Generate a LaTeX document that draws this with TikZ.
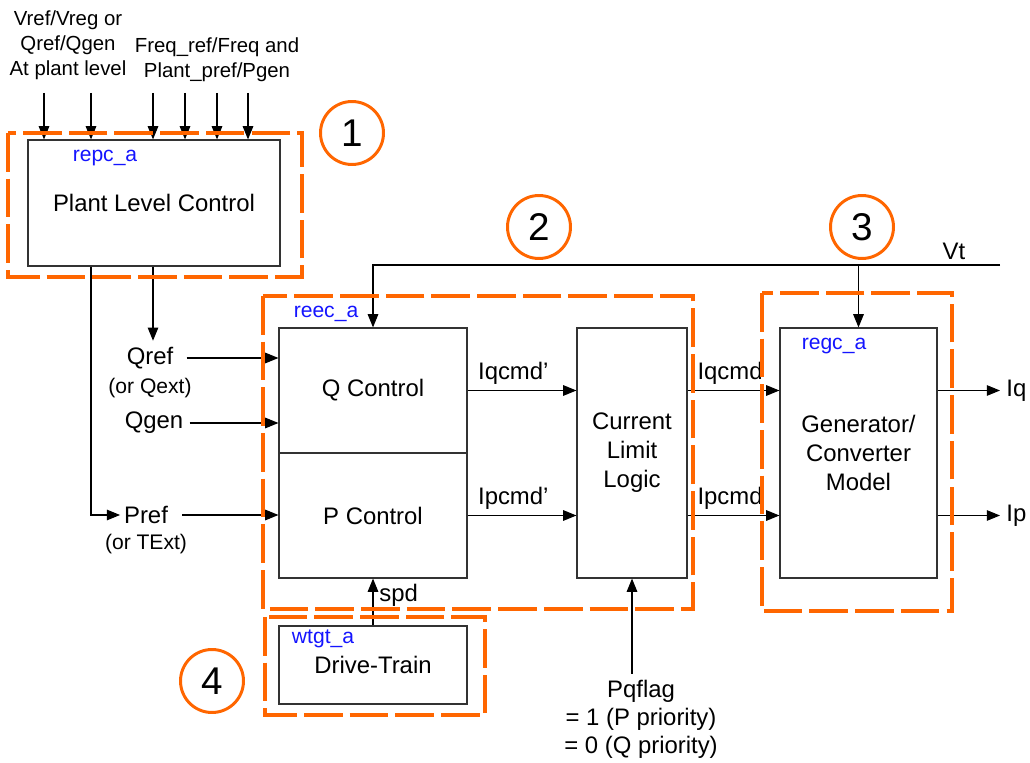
\documentclass[tikz,border=0pt]{standalone}
\usepackage{fontspec}
\setmainfont{Liberation Sans}
\usetikzlibrary{arrows.meta}
\definecolor{grporange}{RGB}{255,102,0}
\definecolor{tagblue}{RGB}{20,20,255}

\begin{document}
\begin{tikzpicture}[x=0.02cm,y=-0.02cm,line width=0.6pt,
  >={Triangle[length=7.5pt,width=6pt]},
  every node/.style={font=\fontsize{13.6}{16.5}\selectfont},
  blk/.style={draw=black!80,line width=0.7pt,align=center,inner sep=0pt},
  tag/.style={text=tagblue,font=\fontsize{12}{14}\selectfont},
  note/.style={font=\fontsize{12}{14}\selectfont},
  intext/.style={align=center,font=\fontsize{11.6}{14.2}\selectfont},
  grp/.style={draw=grporange,line width=2.5pt,dash pattern=on 22pt off 4pt},
  num/.style={circle,draw=grporange,line width=1.7pt,minimum size=1.26cm,
    inner sep=0pt,font=\fontsize{22}{24}\selectfont}]
\useasboundingbox (0,0) rectangle (1030,763);
\path
(68,45) node[intext] (vin) {Vref/Vreg or\\Qref/Qgen\\At plant level}
(217,60) node[intext] (fin) {Freq\_ref/Freq and\\Plant\_pref/Pgen}
(44,93) coordinate (in1)
(91,93) coordinate (in2)
(153,93) coordinate (in3)
(185,93) coordinate (in4)
(217,93) coordinate (in5)
(248,93) coordinate (in6)
(154,203) node[blk,minimum width=5.04cm,minimum height=2.52cm] (plant) {Plant Level Control}
(105,158) node[tag] (repc) {repc\_a}
(150,358) node (qref) {Qref}
(150,388) node[note] (qext) {(or Qext)}
(154,423) node (qgen) {Qgen}
(146,515) node[inner sep=2pt] (pref) {Pref}
(146,544) node[note] (text) {(or TExt)}
(373,390.5) node[blk,minimum width=3.76cm,minimum height=2.5cm] (qctrl) {Q Control}
(373,515.5) node[blk,minimum width=3.76cm,minimum height=2.5cm] (pctrl) {P Control}
(326,314) node[tag] (reec) {reec\_a}
(632,453) node[blk,minimum width=2.2cm,minimum height=5cm] (cll) {Current\\Limit\\Logic}
(858.5,453) node[blk,minimum width=3.14cm,minimum height=5cm] (gen) {Generator/\\Converter\\Model}
(834,346) node[tag] (regc) {regc\_a}
(373,665) node[blk,minimum width=3.76cm,minimum height=1.56cm] (drive) {Drive-Train}
(323,639) node[tag] (wtgt) {wtgt\_a}
(641,719) node[align=center,font=\fontsize{13.6}{15.9}\selectfont] (pqflag) {Pqflag\\= 1 (P priority)\\= 0 (Q priority)}
(1000,265) coordinate (vtend)
(954,251) node (vt) {Vt}
(1000,390.5) node[anchor=west] (iq) {Iq}
(1000,515.5) node[anchor=west] (ip) {Ip}
(352,133) node[num] (n1) {1}
(539,227) node[num] (n2) {2}
(862,227) node[num] (n3) {3}
(212,681) node[num] (n4) {4};
% plant level inputs
\foreach \i in {1,...,6}
  \draw[->] (in\i) -- (in\i |- plant.north);
\draw[->] (plant.south -| in2) |- (pref);
\draw[->] (plant.south -| in3) -- (in3 |- qref.north);
\draw[->,shorten <=4pt] (qref.east) -- (qref.east -| qctrl.west);
\draw[->] (qgen.east) -- (qgen.east -| qctrl.west);
\draw[->,shorten <=6pt] (pref.east) -- (pref.east -| pctrl.west);
% terminal voltage
\draw[->] (vtend) -| (qctrl.north);
\draw[->] (vtend -| gen.north) -- (gen.north);
\draw[->] (qctrl.east) -- (qctrl.east -| cll.west) node[above,pos=0.42] (iqp) {Iqcmd'};
\draw[->] (pctrl.east) -- (pctrl.east -| cll.west) node[above,pos=0.42] (ipp) {Ipcmd'};
\draw[->] (qctrl.east -| cll.east) -- (qctrl.east -| gen.west) node[above right,pos=0,xshift=2pt] (iqc) {Iqcmd};
\draw[->] (pctrl.east -| cll.east) -- (pctrl.east -| gen.west) node[above right,pos=0,xshift=2pt] (ipc) {Ipcmd};
\draw[->] (iq -| gen.east) -- (iq);
\draw[->] (ip -| gen.east) -- (ip);
\draw[->] (drive.north) -- (pctrl.south) node[right,pos=0.65] (spd) {spd};
\draw[->] (pqflag.north -| cll.south) -- (cll.south);
% model groups
\draw[grp] (8,133) rectangle (302,277);
\draw[grp] (263,296) rectangle (693,609);
\draw[grp] (762,293) rectangle (952,611);
\draw[grp] (265,617) rectangle (485,715);
\end{tikzpicture}
\end{document}
